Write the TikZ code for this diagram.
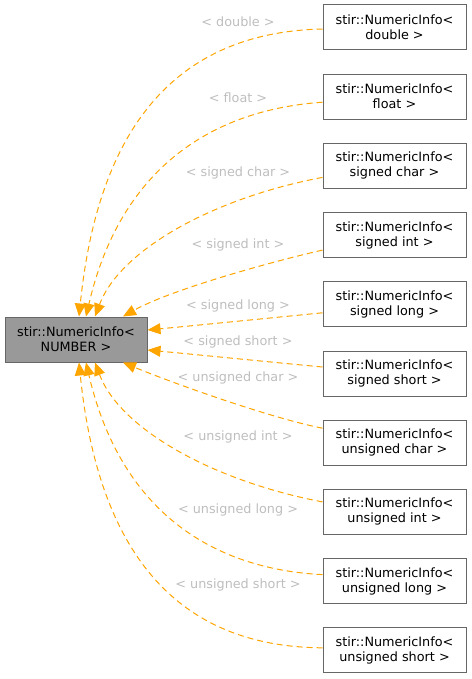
\documentclass[tikz,border=0pt]{standalone}
\usepackage{fontspec}
\setmainfont{DejaVu Sans}
\usetikzlibrary{arrows.meta,calc}
\definecolor{DoxEdge}{HTML}{FFA500}
\definecolor{DoxBorder}{HTML}{666666}
\definecolor{DoxBase}{HTML}{999999}
\definecolor{DoxLabel}{HTML}{BEBEBE}
\tikzset{
  cls/.style={draw=DoxBorder,fill=white,line width=1pt,minimum width=143pt,
    minimum height=45pt,align=center,inner sep=0pt,
    font=\fontsize{12.8}{15}\selectfont},
  basecls/.style={cls,fill=DoxBase,minimum width=142pt},
  inh/.style={DoxEdge,line width=1pt,dash pattern=on 6pt off 4pt,
    -{Triangle[length=13pt,width=11pt]}},
  tpl/.style={text=DoxLabel,inner sep=0pt,font=\fontsize{12.8}{15}\selectfont}
}
\begin{document}
\begin{tikzpicture}[x=1pt,y=-1pt]
  \useasboundingbox (0,0) rectangle (471,679);
  % base class
  \node[basecls] (base) at (76,339.5) {stir::NumericInfo<\\NUMBER >};
  % instantiations
  \foreach \nm/\ty [count=\i from 0] in {dbl/double,flt/float,schr/signed char,
      sint/signed int,slng/signed long,ssht/signed short,uchr/unsigned char,
      uint/unsigned int,ulng/unsigned long,usht/unsigned short}
    \node[cls] (\nm) at (394.5,27.5+69.2*\i) {stir::NumericInfo<\\\ty{} >};
  % edges
  \draw[inh] ($(dbl.west)+(0,1.5)$) .. controls (190,32) and (100,110) .. ($(base.north)+(3,0)$);
  \draw[inh] ($(flt.west)+(0,5.5)$) .. controls (210,110) and (120,170) .. ($(base.north)+(10,0)$);
  \draw[inh] ($(schr.west)+(0,11.5)$) .. controls (213,198) and (120,250) .. ($(base.north)+(19,0)$);
  \draw[inh] ($(sint.west)+(0,15)$) .. controls (270,262) and (170,290) .. ($(base.north)+(47,0)$);
  \draw[inh] ($(slng.west)+(0,8.5)$) .. controls (270,318) and (200,325) .. ($(base.east)+(0,-9.5)$);
  \draw[inh] ($(ssht.west)+(0,-6.5)$) .. controls (270,362) and (200,355) .. ($(base.east)+(0,10.5)$);
  \draw[inh] ($(uchr.west)+(0,-14.5)$) .. controls (270,418) and (170,382) .. ($(base.south)+(47,0)$);
  \draw[inh] ($(uint.west)+(0,-10)$) .. controls (213,481) and (120,429) .. ($(base.south)+(19,0)$);
  \draw[inh] ($(ulng.west)+(0,-6.5)$) .. controls (210,569) and (120,509) .. ($(base.south)+(10,0)$);
  \draw[inh] ($(usht.west)+(0,-2.5)$) .. controls (190,647) and (100,569) .. ($(base.south)+(3,0)$);
  % template arguments
  \node[tpl] (ldbl) at (238,22) {< double >};
  \node[tpl] (lflt) at (238,98) {< float >};
  \node[tpl] (lschr) at (238,173) {< signed char >};
  \node[tpl] (lsint) at (238,245) {< signed int >};
  \node[tpl] (lslng) at (238,306) {< signed long >};
  \node[tpl] (lssht) at (238,342) {< signed short >};
  \node[tpl] (luchr) at (238,378) {< unsigned char >};
  \node[tpl] (luint) at (238,437) {< unsigned int >};
  \node[tpl] (lulng) at (238,510) {< unsigned long >};
  \node[tpl] (lusht) at (238,585) {< unsigned short >};
\end{tikzpicture}
\end{document}
